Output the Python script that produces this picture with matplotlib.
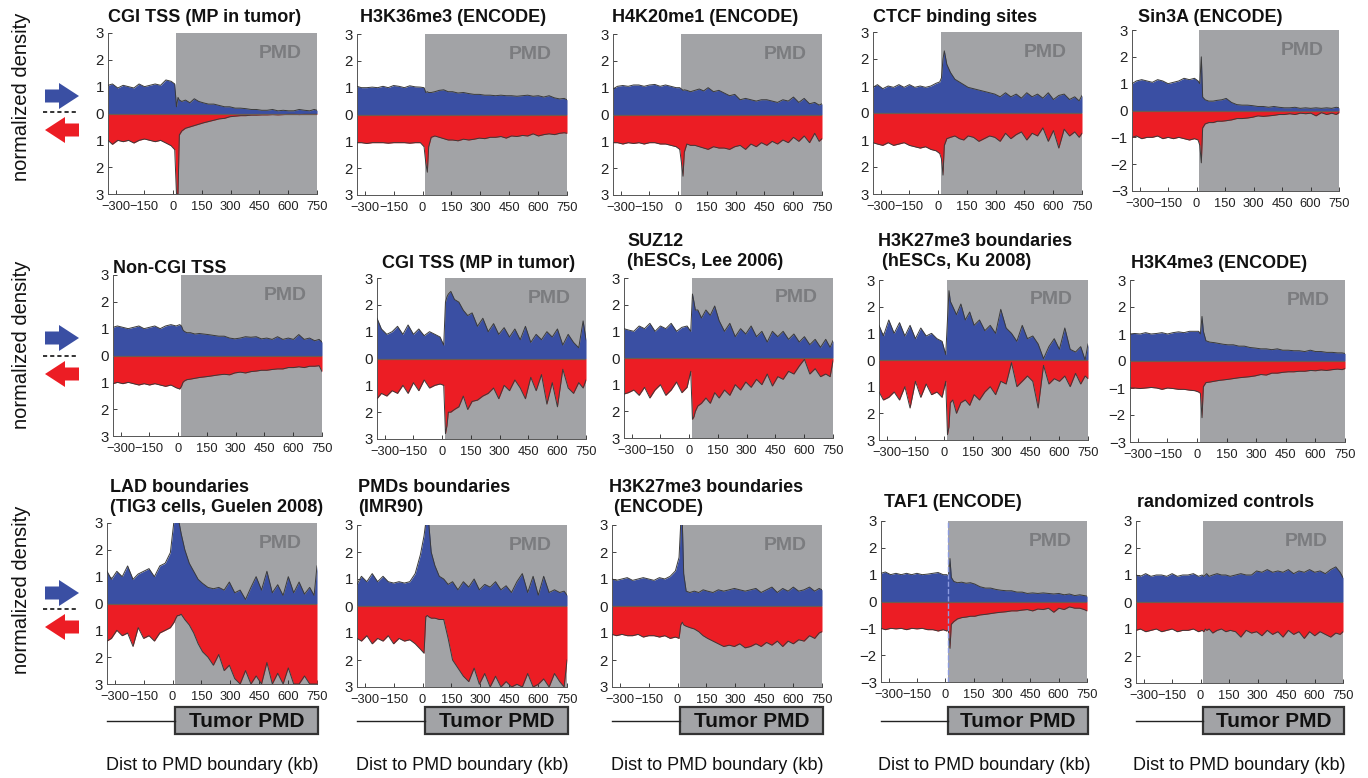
import matplotlib
matplotlib.use("Agg")
import matplotlib.pyplot as plt
from matplotlib.patches import Rectangle, FancyArrow

plt.rcParams['font.family'] = ['Liberation Sans', 'DejaVu Sans']
plt.rcParams['axes.unicode_minus'] = True

W, H = 1368, 778
XMIN, XMAX = -340, 750
PMD_START = 15

# ---------------- data ----------------
x_kb = [-340, -317, -289, -261, -233, -205, -178, -150, -122, -94, -66, -38, -11, 8,
        17, 25, 32, 45, 64, 87, 110, 133, 156, 184, 212, 240, 268, 295, 323, 351, 379,
        407, 434, 462, 490, 518, 546, 574, 601, 629, 657, 685, 712, 735, 750]

x_ticks = [-300, -150, 0, 150, 300, 450, 600, 750]
x_ticklabels = ['\u2212300', '\u2212150', '0', '150', '300', '450', '600', '750']
y_ticks = [-3, -2, -1, 0, 1, 2, 3]
y_labels_abs = ['3', '2', '1', '0', '1', '2', '3']
y_labels_signed = ['\u22123', '\u22122', '\u22121', '0', '1', '2', '3']

titles = [
    ['CGI TSS (MP in tumor)'], ['H3K36me3 (ENCODE)'], ['H4K20me1 (ENCODE)'],
    ['CTCF binding sites'], ['Sin3A (ENCODE)'],
    ['Non-CGI TSS'], ['CGI TSS (MP in tumor)'], ['SUZ12', '(hESCs, Lee 2006)'],
    ['H3K27me3 boundaries', '(hESCs, Ku 2008)'], ['H3K4me3 (ENCODE)'],
    ['LAD boundaries', '(TIG3 cells, Guelen 2008)'], ['PMDs boundaries', '(IMR90)'],
    ['H3K27me3 boundaries', ' (ENCODE)'], ['TAF1 (ENCODE)'], ['randomized controls'],
]
signed_axis = [False, False, False, False, True,
               False, False, False, False, True,
               False, False, False, True, False]

cgi1_up = [1.05,1.1,0.95,1.05,1.0,0.95,1.1,1.0,1.05,1.1,1.05,1.25,1.2,1.1,0.25,0.6,0.5,0.45,0.5,0.4,0.55,0.45,0.4,0.35,0.35,0.3,0.25,0.25,0.2,0.2,0.18,0.15,0.15,0.12,0.12,0.15,0.1,0.12,0.1,0.1,0.15,0.12,0.1,0.15,0.12]
cgi1_down = [1.0,1.15,1.0,1.05,1.0,1.1,1.0,0.95,1.0,1.05,1.0,1.1,1.2,1.35,3.0,3.0,0.8,0.65,0.55,0.5,0.45,0.4,0.35,0.3,0.25,0.2,0.18,0.12,0.1,0.08,0.08,0.06,0.06,0.05,0.05,0.04,0.05,0.04,0.03,0.03,0.04,0.03,0.03,0.03,0.03]
h3k36_up = [1.05,1.0,1.0,1.02,1.0,1.05,1.0,1.08,1.05,1.0,1.07,1.03,1.02,1.0,0.82,0.85,0.82,0.82,0.85,0.9,0.92,0.85,0.85,0.8,0.82,0.78,0.75,0.75,0.72,0.72,0.7,0.72,0.7,0.7,0.68,0.7,0.72,0.68,0.7,0.65,0.7,0.62,0.58,0.6,0.55]
h3k36_down = [1.05,1.05,1.08,1.05,1.05,1.05,1.07,1.05,1.05,1.05,1.07,1.05,1.05,1.2,1.8,2.15,1.2,0.85,0.8,0.85,0.9,0.95,0.95,0.98,0.92,0.95,0.92,0.88,0.9,0.85,0.85,0.82,0.88,0.8,0.82,0.78,0.8,0.72,0.8,0.75,0.72,0.75,0.7,0.68,0.7]
h4k20_up = [0.95,1.05,1.08,1.05,1.1,1.1,1.05,1.1,1.12,1.05,1.1,1.05,1.0,1.0,0.95,0.9,0.92,0.9,0.85,0.9,0.95,0.88,1.0,0.85,0.9,0.8,0.7,0.75,0.55,0.6,0.55,0.5,0.55,0.55,0.5,0.45,0.55,0.5,0.65,0.45,0.6,0.4,0.45,0.35,0.4]
h4k20_down = [1.05,1.05,1.1,1.05,1.08,1.05,1.1,1.05,1.05,1.1,1.1,1.15,1.2,1.3,1.8,2.3,1.4,1.1,1.15,1.15,1.2,1.25,1.3,1.2,1.25,1.25,1.3,1.2,1.15,1.3,1.1,1.2,1.05,1.15,1.0,1.1,0.95,1.05,0.85,1.0,0.8,1.05,0.7,1.0,0.9]
ctcf_up = [0.95,1.05,0.9,1.0,0.95,1.05,0.95,1.05,0.95,1.0,0.95,1.0,1.1,1.15,1.3,2.0,2.3,1.8,1.5,1.25,1.15,1.05,0.95,0.9,0.85,0.8,0.75,0.7,0.6,0.75,0.6,0.7,0.55,0.75,0.6,0.7,0.55,0.75,0.5,0.65,0.7,0.5,0.6,0.45,0.65]
ctcf_down = [1.1,1.15,1.2,1.1,1.2,1.15,1.1,1.2,1.25,1.3,1.25,1.35,1.4,1.5,1.7,2.3,1.2,0.95,0.9,0.85,0.95,1.0,0.85,0.9,1.05,0.95,0.85,0.9,1.05,0.75,0.95,0.8,0.7,1.0,0.75,0.85,0.55,1.05,0.65,1.3,0.6,0.85,0.7,0.9,0.75]
sin3a_up = [1.0,1.1,1.15,1.1,1.05,1.15,1.1,1.0,1.05,1.1,1.2,1.15,1.2,1.1,1.0,2.0,0.5,0.4,0.35,0.35,0.38,0.4,0.45,0.3,0.22,0.2,0.2,0.18,0.15,0.15,0.12,0.15,0.12,0.1,0.1,0.12,0.08,0.1,0.08,0.1,0.08,0.1,0.08,0.12,0.1]
sin3a_down = [1.0,0.95,1.05,1.0,1.0,0.95,1.05,1.0,1.05,1.0,1.05,1.1,1.05,1.1,1.3,1.95,0.65,0.5,0.45,0.45,0.4,0.4,0.38,0.35,0.3,0.3,0.28,0.25,0.2,0.22,0.2,0.18,0.15,0.15,0.12,0.15,0.1,0.12,0.1,0.2,0.08,0.15,0.1,0.15,0.08]

noncgi_up = [1.05,1.1,1.05,1.0,1.05,1.1,1.0,1.05,1.1,1.0,1.1,1.15,1.1,1.15,1.1,0.95,0.9,0.85,0.85,0.8,0.82,0.8,0.78,0.75,0.72,0.72,0.65,0.62,0.65,0.7,0.68,0.7,0.62,0.65,0.6,0.7,0.6,0.65,0.6,0.78,0.6,0.65,0.55,0.6,0.5]
noncgi_down = [1.05,1.0,1.05,1.0,1.05,1.1,1.05,1.1,1.05,1.1,1.15,1.1,1.2,1.25,1.15,1.0,0.95,0.9,0.88,0.85,0.82,0.8,0.78,0.75,0.72,0.7,0.72,0.65,0.62,0.65,0.6,0.58,0.55,0.55,0.52,0.5,0.5,0.45,0.45,0.42,0.45,0.4,0.4,0.38,0.6]
cgi2_up = [1.5,1.1,0.9,1.0,1.2,0.9,1.25,0.9,1.1,0.85,1.0,0.9,0.8,0.5,2.1,2.3,2.4,2.5,2.2,2.1,1.8,1.6,1.7,1.2,1.5,1.0,1.3,0.9,1.15,0.8,1.1,0.7,1.2,0.6,0.9,0.7,1.0,0.8,1.1,0.5,0.9,0.6,0.4,1.4,0.7]
cgi2_down = [1.5,1.3,1.4,1.2,1.3,1.0,1.3,0.9,1.2,0.8,1.1,1.0,0.95,1.0,2.8,2.5,2.0,2.0,1.9,1.8,1.4,1.9,1.6,1.55,1.4,1.3,1.1,1.5,1.0,1.2,0.8,1.1,1.5,0.7,1.2,0.6,1.7,0.9,1.8,0.4,1.1,1.3,0.9,1.1,0.8]
suz12_up = [1.1,1.05,1.0,1.2,1.1,1.3,1.0,1.2,1.1,1.3,1.0,1.15,1.2,1.0,2.4,2.1,1.8,1.8,1.5,1.8,1.6,1.95,1.4,1.0,1.3,0.8,1.1,0.9,1.2,0.8,1.0,0.6,1.0,0.8,1.0,0.7,0.9,0.6,0.8,0.5,0.7,0.4,0.7,0.4,0.65]
suz12_down = [1.35,1.3,1.2,1.4,1.1,1.5,1.2,1.0,1.4,1.2,0.9,1.3,1.1,0.5,2.3,2.2,2.0,1.8,1.7,1.5,1.7,1.3,1.5,1.2,1.4,1.0,1.2,0.9,1.1,0.8,1.0,0.6,1.05,0.7,0.8,0.5,0.6,0.3,0.05,0.6,0.4,0.7,0.6,0.7,0.1]
k27ku_up = [1.3,0.9,1.5,1.0,1.4,0.9,1.3,0.8,1.2,0.9,1.0,0.8,0.7,0.2,1.5,2.6,2.2,2.0,1.7,2.1,1.5,1.8,1.3,1.5,1.1,1.3,1.0,1.9,1.2,1.0,0.7,1.3,0.8,0.9,0.6,0.05,0.5,0.8,0.4,1.2,0.4,0.3,0.5,0.0,0.6]
k27ku_down = [1.2,1.5,1.4,1.2,1.5,1.0,1.8,0.8,1.4,0.9,1.3,1.2,1.4,0.8,2.8,2.5,1.6,1.5,2.0,1.6,1.5,1.7,1.3,1.5,1.2,1.0,1.3,0.8,0.9,0.1,1.0,0.8,0.6,0.8,1.8,0.2,0.9,0.7,0.8,0.6,1.0,0.5,0.9,0.6,0.7]
h3k4_up = [1.0,1.02,1.0,1.05,1.0,1.02,1.05,1.0,1.05,1.08,1.05,1.1,1.1,1.1,1.0,1.65,1.1,0.75,0.7,0.68,0.65,0.62,0.6,0.6,0.55,0.55,0.5,0.48,0.45,0.45,0.42,0.45,0.4,0.4,0.38,0.38,0.35,0.4,0.35,0.35,0.32,0.32,0.3,0.3,0.28]
h3k4_down = [1.0,1.0,1.02,1.0,0.98,1.0,1.05,1.0,1.02,1.05,1.05,1.08,1.1,1.15,1.2,2.1,0.95,0.8,0.78,0.75,0.72,0.7,0.68,0.65,0.62,0.6,0.58,0.55,0.5,0.52,0.45,0.45,0.42,0.4,0.4,0.38,0.38,0.35,0.36,0.33,0.35,0.32,0.3,0.32,0.28]

lad_up = [1.2,0.9,1.2,1.0,1.4,0.9,1.1,1.2,1.3,1.0,1.4,1.5,1.9,3.1,3.2,3.2,3.1,2.6,2.0,1.5,1.2,0.9,0.75,0.6,0.55,0.6,0.5,0.8,0.4,0.5,0.15,0.6,1.0,0.5,1.2,0.4,0.7,0.3,1.0,0.4,0.8,0.35,0.6,0.3,1.4]
lad_down = [1.4,1.3,1.0,1.2,1.1,1.6,0.9,1.3,1.2,1.4,1.1,1.0,0.9,0.7,0.55,0.45,0.45,0.4,0.6,0.8,1.1,1.5,1.8,2.0,2.3,1.9,2.5,2.3,2.8,3.0,2.5,3.0,2.7,3.0,2.2,3.0,2.6,3.0,2.4,3.0,3.0,2.7,3.0,3.0,3.0]
pmd_up = [0.8,1.1,0.9,1.2,0.9,1.1,0.9,0.85,0.9,0.85,0.9,1.2,1.9,2.6,3.1,3.1,3.1,2.0,1.5,1.1,1.0,0.8,0.9,0.6,0.9,0.7,1.0,0.6,0.8,0.7,0.9,0.6,0.75,0.5,0.9,1.2,0.5,1.1,0.4,1.1,0.5,0.6,0.5,0.55,0.4]
pmd_down = [1.2,1.3,1.1,1.4,1.2,1.3,1.1,1.4,1.2,1.3,1.25,1.4,1.6,1.75,0.4,0.35,0.4,0.45,0.45,0.5,0.5,1.2,2.0,2.3,2.6,2.8,2.3,2.9,2.5,3.0,2.6,3.0,2.8,3.0,2.9,3.0,2.5,3.0,2.9,2.7,3.0,2.5,2.8,3.0,2.0]
k27enc_up = [1.0,0.95,1.0,1.05,0.95,1.0,1.05,1.0,0.95,1.05,1.0,1.1,1.3,1.8,3.1,3.1,1.2,0.55,0.5,0.55,0.5,0.6,0.55,0.5,0.6,0.55,0.6,0.65,0.6,0.55,0.6,0.65,0.5,0.6,0.7,0.5,0.65,0.55,0.7,0.55,0.6,0.7,0.55,0.65,0.6]
k27enc_down = [1.05,1.1,1.05,1.1,1.1,1.05,1.15,1.1,1.1,1.15,1.1,1.2,1.15,1.2,0.7,0.6,0.7,0.75,0.8,0.85,0.95,1.1,1.2,1.3,1.4,1.5,1.45,1.5,1.4,1.55,1.5,1.4,1.5,1.35,1.45,1.3,1.5,1.3,1.4,1.25,1.3,1.1,1.2,1.0,0.95]
taf1_up = [1.05,1.1,1.0,1.05,1.0,1.05,1.0,1.05,1.0,1.02,1.05,1.08,1.0,1.0,0.95,1.6,0.9,0.75,0.7,0.72,0.68,0.7,0.65,0.55,0.5,0.5,0.45,0.42,0.4,0.4,0.35,0.35,0.3,0.32,0.3,0.32,0.3,0.28,0.3,0.25,0.28,0.22,0.25,0.22,0.2]
taf1_down = [1.0,1.05,1.0,1.02,1.0,1.05,1.0,1.02,1.0,1.05,1.05,1.1,1.05,1.1,1.05,1.75,0.85,0.75,0.65,0.6,0.58,0.55,0.55,0.5,0.48,0.45,0.42,0.4,0.38,0.35,0.35,0.32,0.3,0.35,0.28,0.3,0.25,0.4,0.25,0.3,0.2,0.25,0.25,0.3,0.35]
rand_up = [1.0,0.95,1.05,0.95,1.0,1.0,0.95,1.05,0.95,1.0,1.0,1.05,0.95,1.0,0.95,1.0,1.05,0.95,1.0,1.05,1.0,1.0,0.95,1.0,1.05,1.0,1.0,1.15,1.1,1.2,1.1,1.15,1.1,1.2,1.05,1.15,1.1,1.2,1.1,1.15,1.05,1.2,1.3,1.1,0.9]
rand_down = [1.05,1.0,1.1,1.05,1.0,1.1,1.05,1.0,1.1,1.05,1.05,1.0,1.1,1.05,1.1,1.0,1.05,1.0,1.15,1.05,1.0,1.1,1.05,1.1,1.3,1.05,1.15,1.1,1.25,1.05,1.2,1.1,1.3,1.05,1.2,1.1,1.35,1.1,1.25,1.1,1.2,1.3,1.15,1.2,1.1]

series_up = [cgi1_up, h3k36_up, h4k20_up, ctcf_up, sin3a_up,
             noncgi_up, cgi2_up, suz12_up, k27ku_up, h3k4_up,
             lad_up, pmd_up, k27enc_up, taf1_up, rand_up]
series_down = [cgi1_down, h3k36_down, h4k20_down, ctcf_down, sin3a_down,
               noncgi_down, cgi2_down, suz12_down, k27ku_down, h3k4_down,
               lad_down, pmd_down, k27enc_down, taf1_down, rand_down]

# ---------------- layout (pixels: left, top, right, bottom) ----------------
rects = [
    (108, 33, 317, 194), (357, 34, 567, 195), (613, 34, 822, 195), (873, 32, 1082, 194), (1132, 30, 1339, 191),
    (113, 275, 322, 436), (377, 278, 586, 439), (624, 278, 833, 438), (879, 280, 1088, 440), (1130, 280, 1345, 442),
    (107, 523, 317, 684), (357, 525, 567, 687), (612, 525, 822, 687), (881, 521, 1087, 682), (1136, 521, 1343, 683),
]
title_pos = [
    [(108, 17)], [(360, 17)], [(612, 17)], [(873, 18)], [(1138, 17)],
    [(113, 268)], [(382, 263)], [(627, 241), (627, 261)], [(878, 241), (882, 262)], [(1131, 263)],
    [(110, 487), (110, 508)], [(358, 487), (358, 508)], [(609, 487), (609, 508)], [(884, 502)], [(1137, 502)],
]

BLUE = '#3a4fa3'
RED = '#ec1d24'
GRAY = '#a2a3a6'
PMDTXT = '#7b7c7f'
EDGE = '#3a3a3a'

fig = plt.figure(figsize=(W / 100, H / 100), dpi=100)


def fx(x):
    return x / W


def fy(y):
    return 1 - y / H


for i in range(15):
    l, t, r, b = rects[i]
    ax = fig.add_axes([fx(l), fy(b), (r - l) / W, (b - t) / H])
    ax.set_xlim(XMIN, XMAX)
    ax.set_ylim(-3, 3)
    ax.axvspan(PMD_START, XMAX, color=GRAY, lw=0, zorder=0)
    up = series_up[i]
    down = [-v for v in series_down[i]]
    ax.fill_between(x_kb, 0, up, color=BLUE, lw=0, zorder=2)
    ax.fill_between(x_kb, down, 0, color=RED, lw=0, zorder=2)
    ax.plot(x_kb, up, color=EDGE, lw=0.7, zorder=3)
    ax.plot(x_kb, down, color=EDGE, lw=0.7, zorder=3)
    ax.axhline(0, color='#6e5a50', lw=0.9, zorder=3)
    if i == 13:
        ax.axvline(PMD_START, color='#8c9be0', lw=1.0, ls='--', zorder=4)
    ax.text(0.928, 0.875, 'PMD', transform=ax.transAxes, ha='right', va='center',
            color=PMDTXT, fontsize=14, fontweight='bold', zorder=5)
    ax.set_xticks(x_ticks)
    ax.set_xticklabels(x_ticklabels)
    ax.set_yticks(y_ticks)
    ax.set_yticklabels(y_labels_signed if signed_axis[i] else y_labels_abs)
    ax.tick_params(direction='in', length=3, width=0.6,
                   colors='#222222', labelcolor='#222222')
    ax.tick_params(axis='x', labelsize=9.3, pad=5)
    ax.tick_params(axis='y', labelsize=10.8, pad=3)
    for side in ['top', 'right']:
        ax.spines[side].set_visible(False)
    for side in ['left', 'bottom']:
        ax.spines[side].set_color('#555555')
        ax.spines[side].set_linewidth(0.7)
    for (tx, ty), line in zip(title_pos[i], titles[i]):
        fig.text(fx(tx), fy(ty), line, ha='left', va='center', fontsize=13,
                 fontweight='bold', color='#111111')

# bottom "Tumor PMD" diagrams and x labels under the last row
for i in range(10, 15):
    l, t, r, b = rects[i]
    axd = fig.add_axes([fx(l), fy(734), (r - l) / W, 27 / H])
    axd.set_xlim(XMIN, XMAX)
    axd.set_ylim(0, 1)
    axd.axis('off')
    axd.plot([XMIN, PMD_START], [0.5, 0.5], color='#222222', lw=1.0, clip_on=False)
    axd.add_patch(Rectangle((PMD_START, 0), XMAX - PMD_START + 6, 1, facecolor=GRAY,
                            edgecolor='#333333', lw=1.6, clip_on=False))
    axd.text((XMAX + PMD_START + 6) / 2, 0.48, 'Tumor PMD', ha='center', va='center',
             fontsize=15, fontweight='bold', color='#111111')
    fig.text(fx((l + r) / 2), fy(766), 'Dist to PMD boundary (kb)', ha='center',
             va='center', fontsize=13, color='#111111')

# left side: row labels, arrows, dashed lines
over = fig.add_axes([0, 0, 1, 1])
over.set_xlim(0, W)
over.set_ylim(H, 0)
over.axis('off')
row_label_y = [97, 345, 590]
arrow_rows = [(96, 112, 130), (338, 356, 374), (593, 609, 627)]
for ly, (by, dy, ry) in zip(row_label_y, arrow_rows):
    fig.text(fx(22), fy(ly), 'normalized density', rotation=90, ha='center', va='center',
             fontsize=14.5, color='#111111')
    over.add_patch(FancyArrow(45, by, 34, 0, width=13, head_width=26, head_length=20,
                              length_includes_head=True, color=BLUE, lw=0))
    over.add_patch(FancyArrow(79, ry, -34, 0, width=13, head_width=26, head_length=20,
                              length_includes_head=True, color=RED, lw=0))
    over.plot([43, 78], [dy, dy], color='#111111', lw=1.2, ls=(0, (2.5, 1.8)))

fig.savefig('out.png', dpi=100)
